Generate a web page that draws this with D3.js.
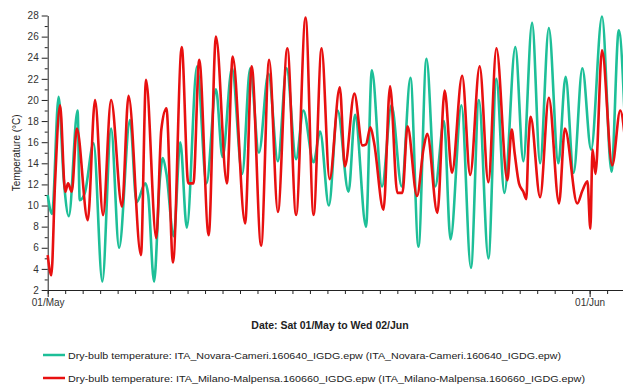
<!DOCTYPE html>
<html>
<head>
<meta charset="utf-8">
<script src="https://cdn.jsdelivr.net/npm/d3@7/dist/d3.min.js"></script>
<style>
body { margin: 0; background: #fff; }
text { font-family: "Liberation Sans", Arial, sans-serif; }
</style>
</head>
<body>
<svg id="chart"></svg>
<script>
// [hours since Sat 01/May 00:00, dry-bulb temperature °C]
const novara = [
	[0,11.0],[6,9.2],[15,20.3],[22,12.5],[29,9.0],[41,19.0],[44,10.5],[51,11.2],[63,15.9],[75,2.8],
	[87,17.3],[98,6.0],[113,18.1],[122,10.3],[134,12.1],[138,11],[146,2.8],[154,12.5],[158,14.5],[163,13],
	[173,7.1],[182,16],[191,7.9],[205,23.2],[218,12.1],[231,21.0],[240,14.6],[253,23.0],[267,13.0],[278,23.0],
	[290,15.0],[303,22.5],[316,14.2],[328,23.0],[341,14.4],[351,19.0],[365,14.1],[374,17],[386,10],[398,19.0],
	[413,11.3],[422,18.6],[437,8.0],[445,22.8],[459,11.8],[472,19.5],[486,11.8],[498,22.1],[509,6.1],[520,23.9],
	[532,11.8],[544,18.0],[553,6.8],[568,19.5],[581,4.1],[592,20.0],[605,5.0],[616,22],[627,11.2],[642,25.0],
	[653,14.2],[665,27.3],[676,14.0],[688,26.8],[701,14.0],[711,22.2],[722,13.1],[734,23.0],[746,15.3],[761,27.9],
	[774,13.2],[784,26.6],[793,17]
] ;
const malpensa = [
	[0,5.3],[5,3.4],[10,12],[17,19.5],[24,11.3],[28,12.1],[33,11.3],[40,17.3],[55,8.6],[65,20.0],
	[76,9.1],[87,20.0],[102,9.9],[111,20.4],[128,5.3],[135,21.9],[149,6.9],[156,17.2],[163,19.2],[172,4.6],
	[184,25.0],[193,12.1],[200,12.1],[208,23.8],[221,7.2],[231,26.0],[246,12.1],[254,24.1],[271,8.3],[280,23.2],
	[293,6.2],[304,23.8],[316,9.4],[329,24.9],[341,9.1],[354,27.8],[365,9.1],[376,24.9],[387,12.5],[401,21.2],
	[408,13.7],[421,20.6],[432,15.7],[437,15.8],[443,17.4],[448,16],[461,9.6],[470,21.3],[480,11.2],[487,11.2],
	[494,17.5],[507,10.9],[516,15.4],[521,16.8],[535,9.3],[545,20.9],[555,13.1],[569,22.3],[580,12.9],[593,23.2],
	[605,12.2],[616,24.9],[631,12.4],[637,17.2],[641,15],[647,12.1],[653,11.3],[657,10.6],[660,15.9],[663,18.4],
	[676,10.8],[688,20.2],[702,10.2],[710,17.3],[727,10.2],[734,11.4],[741,12.3],[745,7.8],[748,15.3],[752,13],
	[761,24.7],[775,13.8],[786,19.0],[793,16]
] ;

const seriesNames = [
	'Dry-bulb temperature: ITA_Novara-Cameri.160640_IGDG.epw (ITA_Novara-Cameri.160640_IGDG.epw)',
	'Dry-bulb temperature: ITA_Milano-Malpensa.160660_IGDG.epw (ITA_Milano-Malpensa.160660_IGDG.epw)'
] ;
const seriesColors = [ '#1dbf98', '#e81010' ] ;
const yMajorTicks = d3.range( 2, 29, 2 ) ;
const yMinorTicks = d3.range( 3, 28, 2 ) ;
const xTitle = 'Date: Sat 01/May to Wed 02/Jun' ;
const yTitle = 'Temperature (°C)' ;

const start = new Date( Date.UTC( 2021, 4, 1 ) ) ;
const end = new Date( Date.UTC( 2021, 5, 3 ) ) ;
const toDate = h => new Date( start.getTime() + h * 3600e3 ) ;

const geom = {
	width: 623,
	height: 389,
	margins: { left: 47.7, top: 15.5, bottom: 99, right: -1.6 }
} ;

const x = d3.scaleUtc()
	.domain( [ start, end ] )
	.range( [ geom.margins.left, geom.width - geom.margins.right ] ) ;
const y = d3.scaleLinear()
	.domain( [ 2, 28 ] )
	.range( [ geom.height - geom.margins.bottom, geom.margins.top ] ) ;

const svg = d3.select( '#chart' )
	.attr( 'width', geom.width )
	.attr( 'height', geom.height ) ;

// y axis: minor ticks, then labelled ones
svg.append( 'g' )
	.attr( 'transform', 'translate(' + geom.margins.left + ',0)' )
	.call( d3.axisLeft( y ).tickValues( yMinorTicks ).tickSize( 3 ).tickFormat( '' ) )
	.call( g => g.select( '.domain' ).remove() ) ;
svg.append( 'g' )
	.attr( 'class', 'yaxis' )
	.attr( 'transform', 'translate(' + geom.margins.left + ',0)' )
	.call( d3.axisLeft( y ).tickValues( yMajorTicks ).tickSize( 6 ).tickSizeOuter( 0 ).tickPadding( 3 ) )
	.attr( 'font-size', '10px' ) ;

// x axis: a tick every day, longer ones with labels at month starts
const xBase = geom.height - geom.margins.bottom ;
svg.append( 'g' )
	.attr( 'transform', 'translate(0,' + xBase + ')' )
	.call( d3.axisBottom( x ).ticks( d3.utcDay.every( 1 ) ).tickSize( 4 ).tickSizeOuter( 0 ).tickFormat( '' ) ) ;
svg.append( 'g' )
	.attr( 'transform', 'translate(0,' + xBase + ')' )
	.call( d3.axisBottom( x ).ticks( d3.utcMonth.every( 1 ) ).tickSize( 7 ).tickPadding( 2 )
		.tickFormat( d3.utcFormat( '%d/%b' ) ) )
	.attr( 'font-size', '10px' )
	.call( g => g.select( '.domain' ).remove() ) ;

svg.selectAll( '.tick text' ).attr( 'fill', '#333' ) ;
svg.selectAll( '.tick line, .domain' ).attr( 'stroke', '#222' ) ;

const line = d3.line()
	.x( d => x( toDate( d[0] ) ) )
	.y( d => y( d[1] ) )
	.curve( d3.curveMonotoneX ) ;

svg.selectAll( 'path.series' )
	.data( [ novara, malpensa ] )
	.enter()
	.append( 'path' )
	.attr( 'class', 'series' )
	.attr( 'd', line )
	.attr( 'fill', 'none' )
	.attr( 'stroke', (d, i) => seriesColors[i] )
	.attr( 'stroke-width', 2.6 )
	.attr( 'stroke-linejoin', 'round' ) ;

svg.append( 'text' )
	.attr( 'x', 330 )
	.attr( 'y', 329 )
	.attr( 'text-anchor', 'middle' )
	.attr( 'font-size', '10.5px' )
	.attr( 'font-weight', 'bold' )
	.attr( 'fill', '#222' )
	.text( xTitle ) ;

svg.append( 'text' )
	.attr( 'transform', 'translate(20,' + y( 15 ) + ') rotate(-90)' )
	.attr( 'text-anchor', 'middle' )
	.attr( 'font-size', '10px' )
	.attr( 'fill', '#222' )
	.text( yTitle ) ;

const legend = svg.selectAll( 'g.legend' )
	.data( seriesNames )
	.enter()
	.append( 'g' )
	.attr( 'class', 'legend' )
	.attr( 'transform', (d, i) => 'translate(43,' + (355 + i * 23) + ')' ) ;
legend.append( 'line' )
	.attr( 'x2', 22 )
	.attr( 'stroke', (d, i) => seriesColors[i] )
	.attr( 'stroke-width', 2.5 ) ;
legend.append( 'text' )
	.attr( 'x', 25 )
	.attr( 'y', 3.5 )
	.attr( 'font-size', '9.5px' )
	.attr( 'fill', '#222' )
	.attr( 'textLength', (d, i) => [ 493, 517 ][i] )
	.attr( 'lengthAdjust', 'spacingAndGlyphs' )
	.text( d => d ) ;
</script>
</body>
</html>
